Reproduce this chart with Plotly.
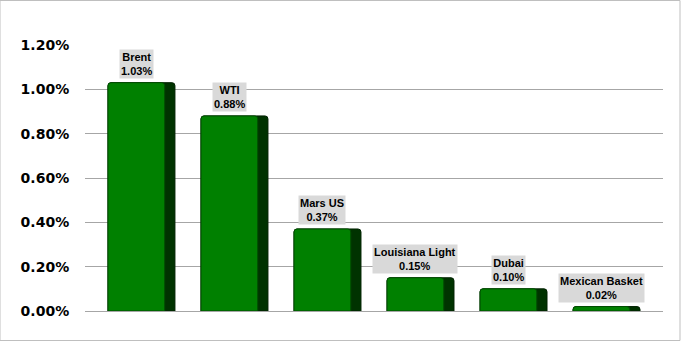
import plotly.graph_objects as go

categories = ["Brent", "WTI", "Mars US", "Louisiana Light", "Dubai", "Mexican Basket"]
values = [1.03, 0.88, 0.37, 0.15, 0.10, 0.02]
tick_vals = [0, 0.2, 0.4, 0.6, 0.8, 1.0, 1.2]
tick_text = ["0.00%", "0.20%", "0.40%", "0.60%", "0.80%", "1.00%", "1.20%"]

x_idx = list(range(len(categories)))
full_w = 0.72
front_w = 0.61

fig = go.Figure()
# dark side (3D effect)
fig.add_trace(go.Bar(
    x=x_idx, y=values, width=[full_w] * len(values), offset=-full_w / 2,
    marker=dict(color="#003300", line=dict(color="#002200", width=1), cornerradius=3),
    hoverinfo="skip", showlegend=False,
))
# front face
fig.add_trace(go.Bar(
    x=x_idx, y=values, width=[front_w] * len(values), offset=-full_w / 2,
    marker=dict(color="#008000", line=dict(color="#004d00", width=1), cornerradius=3),
    showlegend=False,
))

for i, (c, v) in enumerate(zip(categories, values)):
    fig.add_annotation(
        x=i - full_w / 2 + front_w / 2, y=v, yshift=4, yanchor="bottom",
        text=f"{c}<br>{v:.2f}%", showarrow=False,
        font=dict(family="Liberation Sans", size=11, color="#000000", weight="bold"),
        bgcolor="#d9d9d9", borderpad=1, align="center",
    )

fig.update_layout(
    width=681, height=341,
    margin=dict(l=85, r=18, t=45, b=30),
    paper_bgcolor="white", plot_bgcolor="white",
    barmode="overlay",
    xaxis=dict(range=[-0.607, 5.607], showticklabels=False, showgrid=False,
               zeroline=False, showline=False, fixedrange=True),
    yaxis=dict(range=[0, 1.2], tickvals=tick_vals, ticktext=tick_text,
               showgrid=True, gridcolor="#a6a6a6", gridwidth=1,
               zeroline=True, zerolinecolor="#a6a6a6", zerolinewidth=1,
               ticks="outside", ticklen=12, tickcolor="rgba(0,0,0,0)",
               tickfont=dict(family="DejaVu Sans", size=14, color="#000000", weight="bold"),
               showline=False),
    shapes=[dict(type="rect", xref="paper", yref="paper",
                 x0=-85 / 578, x1=1 + 17 / 578, y0=-29.5 / 266, y1=1 + 44.5 / 266,
                 line=dict(color="#bfbfbf", width=1), layer="below")],
)

fig.write_html("out.html")
